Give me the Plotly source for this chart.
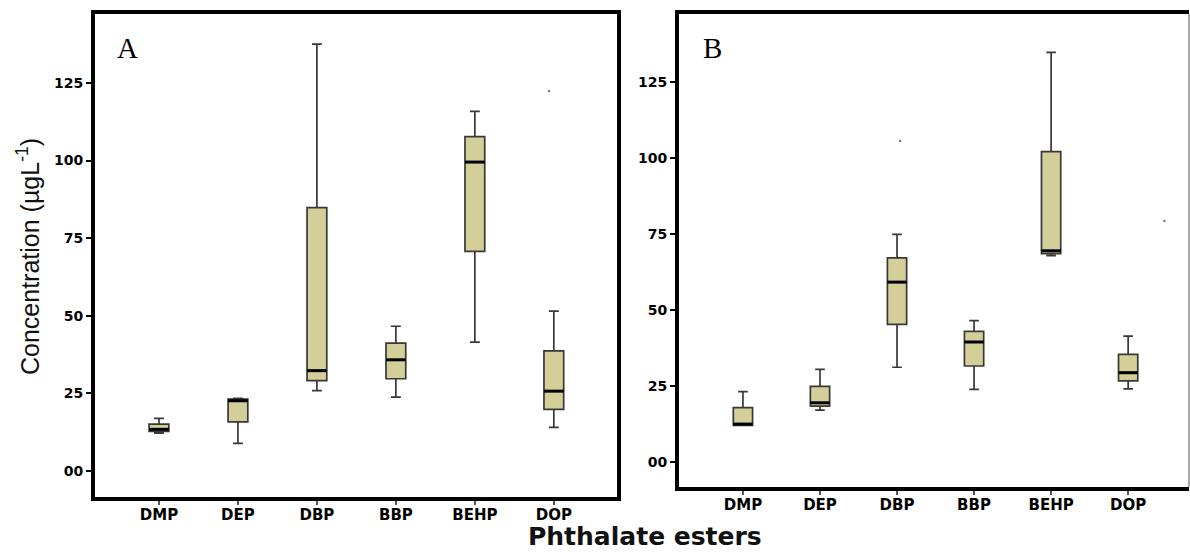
import plotly.graph_objects as go

W, H = 1190, 552

categories = ["DMP", "DEP", "DBP", "BBP", "BEHP", "DOP"]

# Panel A box statistics (µg/L)
a_lower = [12.2, 8.9, 25.9, 23.8, 41.5, 14.0]
a_q1 = [12.7, 15.8, 29.1, 29.7, 70.7, 19.8]
a_median = [13.4, 22.6, 32.3, 35.8, 99.5, 25.7]
a_q3 = [15.1, 23.1, 84.8, 41.2, 107.7, 38.7]
a_upper = [16.9, 23.4, 137.5, 46.6, 115.8, 51.5]
a_out_x = [4.94]
a_out_y = [122.4]

# Panel B box statistics (µg/L)
b_lower = [12.1, 17.1, 31.2, 23.9, 67.9, 24.1]
b_q1 = [12.1, 18.4, 45.3, 31.6, 68.6, 26.7]
b_median = [12.5, 19.5, 59.2, 39.5, 69.5, 29.4]
b_q3 = [17.9, 24.9, 67.2, 43.0, 102.1, 35.4]
b_upper = [23.2, 30.5, 74.9, 46.5, 134.8, 41.4]
b_out_x = [2.04, 5.47]
b_out_y = [105.6, 79.3]

y_ticks = [0, 25, 50, 75, 100, 125]
y_ticktext = ["00", "25", "50", "75", "100", "125"]

BOX_W = 0.25
FILL = "#d4cf98"
EDGE = "#383838"

pos = list(range(len(categories)))

fig = go.Figure()


def add_panel(xa, ya, lower, q1, med, q3, upper, out_x, out_y):
    fig.add_trace(go.Box(
        x=pos, q1=q1, median=med, q3=q3, lowerfence=lower, upperfence=upper,
        width=BOX_W, whiskerwidth=0.5, fillcolor=FILL,
        line=dict(color=EDGE, width=1.7), boxpoints=False,
        xaxis=xa, yaxis=ya, showlegend=False, hoverinfo="skip",
    ))
    # thick median bars
    mx, my = [], []
    for p, m in zip(pos, med):
        mx += [p - BOX_W / 2, p + BOX_W / 2, None]
        my += [m, m, None]
    fig.add_trace(go.Scatter(
        x=mx, y=my, mode="lines", line=dict(color="black", width=3),
        xaxis=xa, yaxis=ya, showlegend=False, hoverinfo="skip",
    ))
    fig.add_trace(go.Scatter(
        x=out_x, y=out_y, mode="markers",
        marker=dict(size=2.5, color="#777777"),
        xaxis=xa, yaxis=ya, showlegend=False, hoverinfo="skip",
    ))


add_panel("x", "y", a_lower, a_q1, a_median, a_q3, a_upper, a_out_x, a_out_y)
add_panel("x2", "y2", b_lower, b_q1, b_median, b_q3, b_upper, b_out_x, b_out_y)

tick_font = dict(family="DejaVu Sans", size=15, color="black", weight="bold")
ytick_font = dict(family="DejaVu Sans", size=14, color="black", weight="bold")

common_x = dict(
    tickvals=pos, ticktext=categories, showline=True, linecolor="black",
    ticks="outside", ticklen=4, tickwidth=1.5, tickcolor="#555555",
    tickfont=tick_font, showgrid=False, zeroline=False,
    ticklabelstandoff=-3,
)
common_y = dict(
    tickvals=y_ticks, ticktext=y_ticktext, showline=True, linecolor="black",
    ticks="outside", ticklen=5, tickwidth=1.5, tickcolor="black",
    tickfont=ytick_font, showgrid=False, zeroline=False,
)

fig.update_layout(
    width=W, height=H, margin=dict(l=0, r=0, t=0, b=0),
    paper_bgcolor="white", plot_bgcolor="white",
    xaxis=dict(domain=[95 / W, 617 / W], range=[-0.81, 5.8], anchor="y",
               linewidth=4, mirror=True, **common_x),
    yaxis=dict(domain=[(H - 497) / H, (H - 14) / H], range=[-8.4, 147.2],
               anchor="x", linewidth=4, mirror=True, **common_y),
    xaxis2=dict(domain=[679 / W, 1189 / W], range=[-0.83, 5.79], anchor="y2",
                linewidth=4, mirror=True, **common_x),
    yaxis2=dict(domain=[(H - 487) / H, (H - 14) / H], range=[-8.2, 147.4],
                anchor="x2", linewidth=4, mirror=False, **common_y),
    shapes=[dict(type="line", xref="x2 domain", yref="y2 domain",
                 x0=1, x1=1, y0=0, y1=1,
                 line=dict(color="#555555", width=1))],
    annotations=[
        dict(text="A", x=115 / W, y=1 - 48 / H, xref="paper", yref="paper",
             xanchor="left", yanchor="middle", showarrow=False,
             font=dict(family="Liberation Serif", size=29, color="black")),
        dict(text="B", x=701 / W, y=1 - 48 / H, xref="paper", yref="paper",
             xanchor="left", yanchor="middle", showarrow=False,
             font=dict(family="Liberation Serif", size=29, color="black")),
        dict(text="Concentration (µgL<sup>-1</sup>)", x=28 / W, y=1 - 257 / H,
             xref="paper", yref="paper", xanchor="center", yanchor="middle",
             textangle=-90, showarrow=False,
             font=dict(family="Liberation Sans", size=25, color="#111111")),
        dict(text="Phthalate esters", x=645 / W, y=1 - 536 / H,
             xref="paper", yref="paper", xanchor="center", yanchor="middle",
             showarrow=False,
             font=dict(family="DejaVu Sans", size=25, color="#111111",
                       weight="bold")),
    ],
)

fig.write_html("out.html")
